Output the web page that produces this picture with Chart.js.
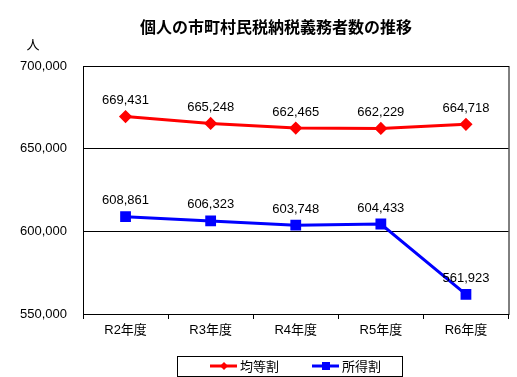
<!DOCTYPE html>
<html>
<head>
<meta charset="utf-8">
<script src="https://cdn.jsdelivr.net/npm/chart.js@4.4.1/dist/chart.umd.min.js"></script>
<style>
  html, body { margin: 0; padding: 0; background: #fff; }
  #wrap { width: 517px; height: 377px; }
</style>
</head>
<body>
<div id="wrap"><canvas id="lineChart" width="517" height="377"></canvas></div>
<script>
const categories = ['R2年度', 'R3年度', 'R4年度', 'R5年度', 'R6年度'];
const kintouwari = [669431, 665248, 662465, 662229, 664718];
const shotokuwari = [608861, 606323, 603748, 604433, 561923];
const yTicks = [550000, 600000, 650000, 700000];

const FONT = "'Liberation Sans', 'Noto Sans CJK JP', sans-serif";

// labels, frame, title and legend box
const decor = {
  id: 'decor',
  afterDatasetsDraw(chart) {
    const ctx = chart.ctx;
    const area = chart.chartArea;
    ctx.save();
    ctx.strokeStyle = '#000';
    ctx.lineWidth = 1;
    ctx.strokeRect(area.left + 0.5, area.top + 0.5, area.right - area.left, area.bottom - area.top);

    ctx.font = '13px ' + FONT;
    ctx.fillStyle = '#000';
    ctx.textAlign = 'center';
    ctx.textBaseline = 'middle';
    chart.data.datasets.forEach((ds, i) => {
      chart.getDatasetMeta(i).data.forEach((pt, j) => {
        ctx.fillText(ds.data[j].toLocaleString('en-US'), pt.x, pt.y - 16);
      });
    });
    ctx.restore();
  },
  afterDraw(chart) {
    const ctx = chart.ctx;
    ctx.save();
    ctx.fillStyle = '#000';
    ctx.textBaseline = 'middle';
    ctx.textAlign = 'center';
    ctx.font = "bold 16px 'Noto Sans CJK JP', sans-serif";
    ctx.fillText('個人の市町村民税納税義務者数の推移', 276, 27);
    ctx.font = "13px 'Noto Sans CJK JP', sans-serif";
    ctx.fillText('人', 33, 44);

    // legend
    ctx.strokeStyle = '#000';
    ctx.lineWidth = 1;
    ctx.strokeRect(177.5, 356.5, 225, 20);
    const items = [
      { x: 210, ds: chart.data.datasets[0] },
      { x: 312, ds: chart.data.datasets[1] }
    ];
    items.forEach(it => {
      ctx.strokeStyle = it.ds.borderColor;
      ctx.fillStyle = it.ds.borderColor;
      ctx.lineWidth = 3;
      ctx.beginPath();
      ctx.moveTo(it.x, 366);
      ctx.lineTo(it.x + 27, 366);
      ctx.stroke();
      const cx = it.x + 14;
      ctx.beginPath();
      if (it.ds.pointStyle === 'rectRot') {
        ctx.moveTo(cx, 362); ctx.lineTo(cx + 4, 366); ctx.lineTo(cx, 370); ctx.lineTo(cx - 4, 366);
      } else {
        ctx.rect(cx - 4, 362, 8, 8);
      }
      ctx.closePath();
      ctx.fill();
      ctx.fillStyle = '#000';
      ctx.textAlign = 'left';
      ctx.font = "13px 'Noto Sans CJK JP', sans-serif";
      ctx.fillText(it.ds.label, it.x + 30, 366);
    });
    ctx.restore();
  }
};

new Chart(document.getElementById('lineChart'), {
  type: 'line',
  data: {
    labels: categories,
    datasets: [
      {
        label: '均等割',
        data: kintouwari,
        borderColor: '#ff0000',
        backgroundColor: '#ff0000',
        borderWidth: 3,
        pointStyle: 'rectRot',
        pointRadius: 4.5,
        pointHoverRadius: 4.5,
        tension: 0
      },
      {
        label: '所得割',
        data: shotokuwari,
        borderColor: '#0000ff',
        backgroundColor: '#0000ff',
        borderWidth: 3,
        pointStyle: 'rect',
        pointRadius: 5.5,
        pointHoverRadius: 5.5,
        tension: 0
      }
    ]
  },
  options: {
    responsive: false,
    animation: false,
    devicePixelRatio: 1,
    layout: { padding: { top: 66, right: 5, bottom: 0, left: 0 } },
    plugins: {
      legend: { display: false },
      title: { display: false },
      tooltip: { enabled: false }
    },
    scales: {
      x: {
        offset: true,
        afterFit: s => { s.height = 63; },
        grid: {
          offset: true,
          drawOnChartArea: false,
          drawTicks: true,
          tickLength: 5,
          color: '#000'
        },
        border: { color: '#000' },
        ticks: {
          color: '#000',
          padding: 4,
          font: { family: FONT, size: 13 },
          maxRotation: 0
        }
      },
      y: {
        min: 550000,
        max: 700000,
        afterFit: s => { s.width = 83; },
        afterBuildTicks: s => { s.ticks = yTicks.map(v => ({ value: v })); },
        grid: { color: '#000', drawTicks: false },
        border: { color: '#000' },
        ticks: {
          color: '#000',
          padding: 16,
          font: { family: FONT, size: 13 },
          callback: v => v.toLocaleString('en-US')
        }
      }
    }
  },
  plugins: [decor]
});
</script>
</body>
</html>
